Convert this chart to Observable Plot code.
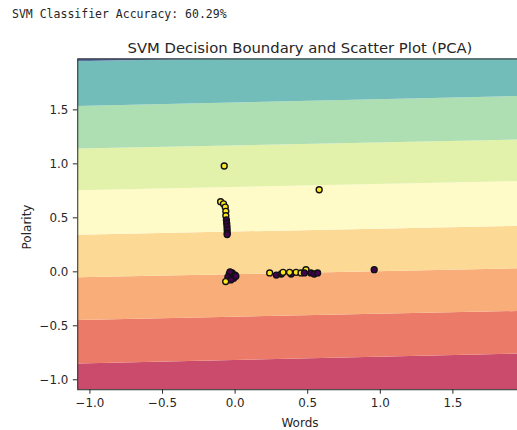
<!DOCTYPE html>
<html>
<head>
<meta charset="utf-8">
<script src="https://cdn.jsdelivr.net/npm/d3@7"></script>
<script src="https://cdn.jsdelivr.net/npm/@observablehq/plot@0.6"></script>
<style>
  html, body { margin: 0; padding: 0; background: #fff; }
  #wrap { position: relative; width: 517px; height: 430px; overflow: hidden; }
  #wrap svg { position: absolute; left: 0; top: 0; }
</style>
</head>
<body>
<div id="wrap"></div>
<script>
// ---- data ----
const accuracyText = "SVM Classifier Accuracy: 60.29%";
const titleText = "SVM Decision Boundary and Scatter Plot (PCA)";
const xLabel = "Words";
const yLabel = "Polarity";

const xTicks = [-1.0, -0.5, 0.0, 0.5, 1.0, 1.5];
const yTicks = [-1.0, -0.5, 0.0, 0.5, 1.0, 1.5];

// decision-region band boundaries (y values) at the left and right edges of the plot
const edgeX = [-1.084, 1.945];
const boundaryLeft  = [-0.853, -0.450, -0.055, 0.339, 0.752, 1.138, 1.532, 1.945];
const boundaryRight = [-0.761, -0.367,  0.028, 0.422, 0.835, 1.220, 1.624, 2.030];
const bandColors = ["#ca4b6c", "#ec7a68", "#f9ad78", "#fdd996", "#fffbc9",
                    "#e3f2aa", "#aedfb3", "#72bcba", "#56709f"];

// scatter points (PCA components) and their classes (1 = yellow, 0 = purple)
const ptX = [-0.075, 0.579,
  -0.100, -0.080, -0.068, -0.064, -0.064,
  -0.060, -0.058, -0.056, -0.055, -0.054, -0.055,
  -0.040, -0.020, 0.000, -0.050, -0.010, -0.030, 0.005, -0.035, -0.065,
  0.284, 0.318, 0.386, 0.238, 0.330, 0.375, 0.420, 0.454, 0.488,
  0.477, 0.522, 0.545, 0.568,
  0.958];
const ptY = [0.98, 0.76,
  0.65, 0.63, 0.60, 0.56, 0.52,
  0.48, 0.45, 0.42, 0.39, 0.36, 0.345,
  -0.02, -0.01, -0.03, -0.05, -0.06, -0.075, -0.04, 0.00, -0.09,
  -0.03, -0.02, -0.02, -0.01, -0.005, -0.005, -0.005, -0.01, 0.02,
  -0.01, -0.01, -0.02, -0.01,
  0.02];
const ptClass = [1, 1,
  1, 1, 1, 1, 1,
  0, 0, 0, 0, 0, 0,
  0, 0, 0, 0, 0, 0, 0, 0, 1,
  0, 0, 0, 1, 1, 1, 1, 1, 1,
  0, 0, 0, 0,
  0];
const classColors = ["#440154", "#fde725"];

// ---- build tables ----
const bandRows = [];
for (let i = 0; i < bandColors.length; i++) {
  const loL = i === 0 ? -1.5 : boundaryLeft[i - 1];
  const loR = i === 0 ? -1.5 : boundaryRight[i - 1];
  const hiL = i === bandColors.length - 1 ? 2.5 : boundaryLeft[i];
  const hiR = i === bandColors.length - 1 ? 2.5 : boundaryRight[i];
  bandRows.push({band: i, x: edgeX[0], y1: loL, y2: hiL, c: bandColors[i]});
  bandRows.push({band: i, x: edgeX[1], y1: loR, y2: hiR, c: bandColors[i]});
}
const points = ptX.map((x, i) => ({x, y: ptY[i], c: classColors[ptClass[i]]}));

const fmt = d => d.toFixed(1).replace("-", "\u2212");

const chart = Plot.plot({
  width: 522,
  height: 430,
  marginLeft: 78,
  marginRight: 0,
  marginTop: 59,
  marginBottom: 37,
  style: {fontFamily: "DejaVu Sans", fontSize: "12px", color: "#262626", background: "transparent"},
  color: {type: "identity"},
  x: {domain: [-1.084, 1.945], ticks: xTicks, tickFormat: fmt, tickSize: 4.5, tickPadding: 4.5, label: null},
  y: {domain: [-1.092, 1.972], ticks: yTicks, tickFormat: fmt, tickSize: 4.5, tickPadding: 5, label: null},
  marks: [
    Plot.areaY(bandRows, {x: "x", y1: "y1", y2: "y2", z: "band", fill: "c", clip: true}),
    Plot.dot(points, {x: "x", y: "y", r: 3.0, fill: "c", stroke: "#111", strokeWidth: 1.4, clip: true}),
    Plot.frame({stroke: "#262626", strokeWidth: 1})
  ]
});
document.getElementById("wrap").appendChild(chart);

// ---- text overlay ----
const ov = d3.select("#wrap").append("svg")
  .attr("width", 517).attr("height", 430)
  .style("font-family", "DejaVu Sans").style("fill", "#262626");
ov.append("text").attr("x", 12).attr("y", 18)
  .style("font-family", "DejaVu Sans Mono").style("font-size", "11.5px")
  .text(accuracyText);
ov.append("text").attr("x", 300).attr("y", 53).attr("text-anchor", "middle")
  .style("font-size", "14.8px").text(titleText);
ov.append("text").attr("x", 300).attr("y", 427).attr("text-anchor", "middle")
  .style("font-size", "12px").text(xLabel);
ov.append("text").attr("transform", "translate(31,227) rotate(-90)").attr("text-anchor", "middle")
  .style("font-size", "12px").text(yLabel);
</script>
</body>
</html>
